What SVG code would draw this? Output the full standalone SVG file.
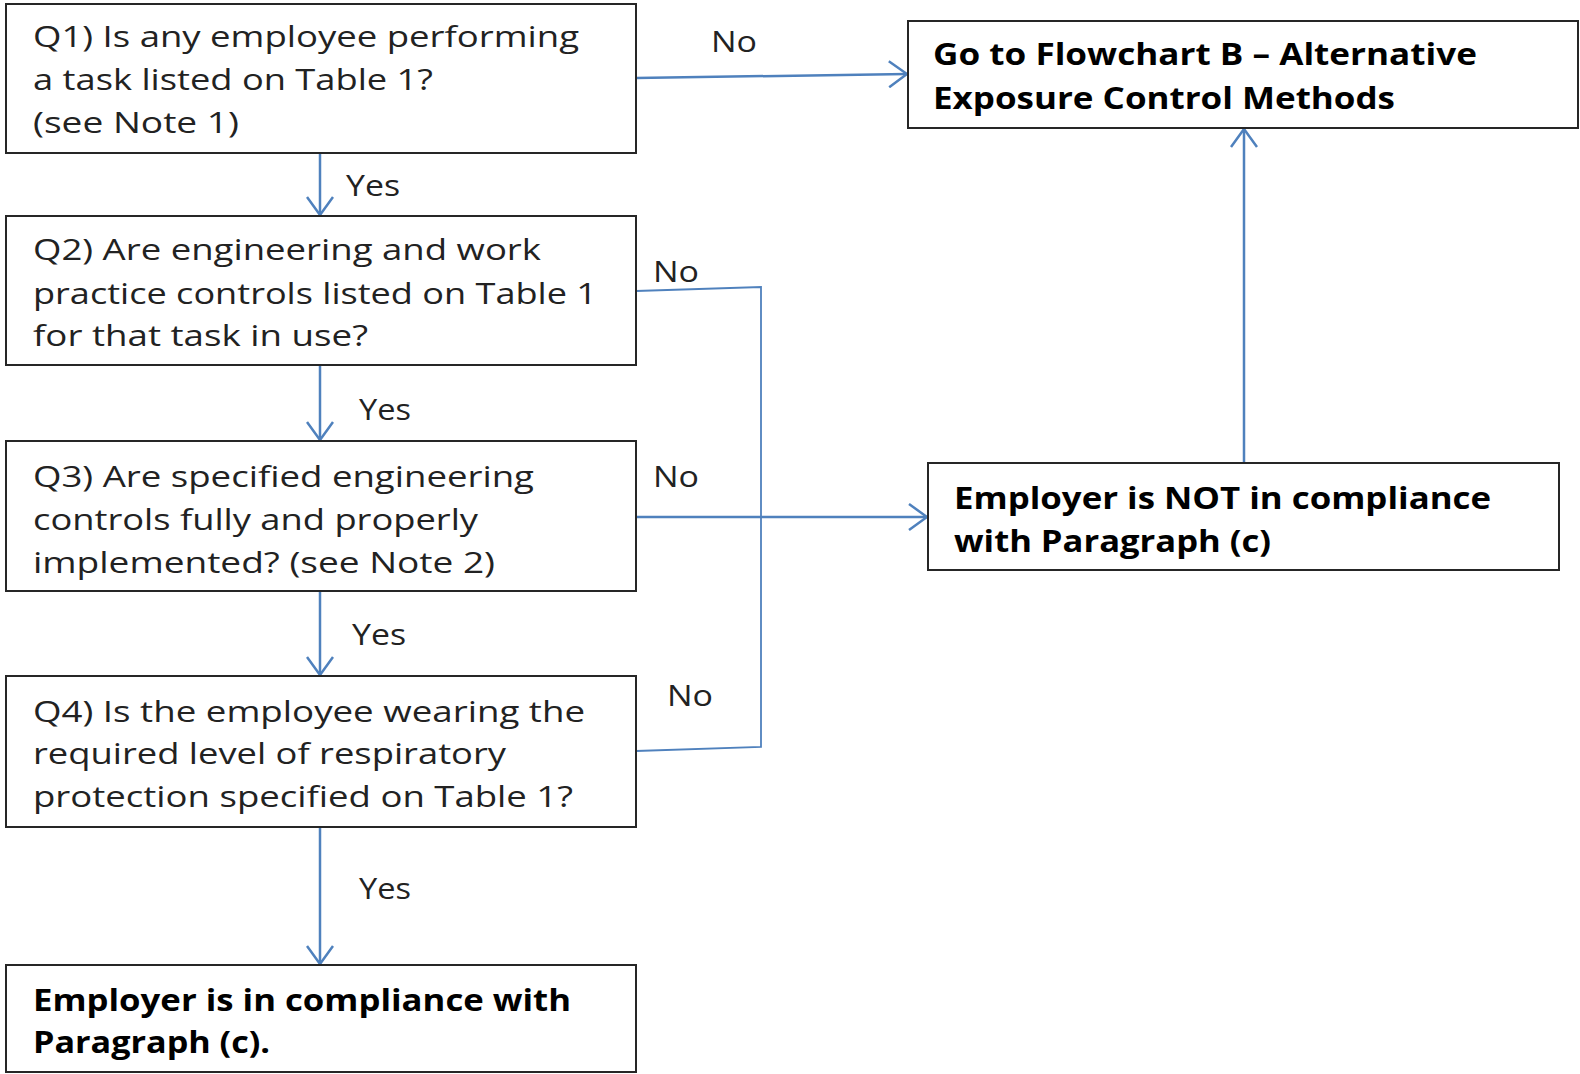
<svg xmlns="http://www.w3.org/2000/svg" width="1580" height="1074" viewBox="0 0 1580 1074">
<style>
.box{fill:#fff;stroke:#262626;stroke-width:2}
.t{font-family:"Open Sans","Liberation Sans",sans-serif;font-size:30px;fill:#222}
.b{font-family:"Open Sans","Liberation Sans",sans-serif;font-size:30px;font-weight:bold;fill:#000}
.c{fill:none;stroke:#4F81BD;stroke-width:2.5}
.l{fill:none;stroke:#4F81BD;stroke-width:1.8}
</style>
<defs>
<marker id="arr" viewBox="0 0 20 28" refX="19" refY="14" markerWidth="20" markerHeight="28" markerUnits="userSpaceOnUse" orient="auto">
<path d="M1,1 L19,14 L1,27" fill="none" stroke="#4F81BD" stroke-width="2.5"/>
</marker>
</defs>
<rect width="1580" height="1074" fill="#fff"/>
<g id="connectors">
<path class="c" d="M636,78 L907,74" marker-end="url(#arr)"/>
<path class="c" d="M320,153 L320,215" marker-end="url(#arr)"/>
<path class="c" d="M320,365 L320,440" marker-end="url(#arr)"/>
<path class="c" d="M320,591 L320,675" marker-end="url(#arr)"/>
<path class="c" d="M320,827 L320,964" marker-end="url(#arr)"/>
<path class="l" d="M636,291 L761,287 L761,747 L636,751"/>
<path class="c" d="M636,517 L927,517" marker-end="url(#arr)"/>
<path class="c" d="M1244,463 L1244,129" marker-end="url(#arr)"/>
<text class="t" x="711" y="52" textLength="46" lengthAdjust="spacingAndGlyphs">No</text>
<text class="t" x="346" y="196" textLength="54" lengthAdjust="spacingAndGlyphs">Yes</text>
<text class="t" x="653" y="282" textLength="46" lengthAdjust="spacingAndGlyphs">No</text>
<text class="t" x="359" y="420" textLength="52" lengthAdjust="spacingAndGlyphs">Yes</text>
<text class="t" x="653" y="487" textLength="46" lengthAdjust="spacingAndGlyphs">No</text>
<text class="t" x="352" y="645" textLength="54" lengthAdjust="spacingAndGlyphs">Yes</text>
<text class="t" x="667" y="706" textLength="46" lengthAdjust="spacingAndGlyphs">No</text>
<text class="t" x="359" y="899" textLength="52" lengthAdjust="spacingAndGlyphs">Yes</text>
</g>
<g id="q1">
<rect class="box" x="6" y="4" width="630" height="149"/>
<text class="t" x="33" y="47" textLength="546" lengthAdjust="spacingAndGlyphs">Q1) Is any employee performing</text>
<text class="t" x="33" y="90" textLength="400" lengthAdjust="spacingAndGlyphs">a task listed on Table 1?</text>
<text class="t" x="33" y="133" textLength="206" lengthAdjust="spacingAndGlyphs">(see Note 1)</text>
</g>
<g id="q2">
<rect class="box" x="6" y="216" width="630" height="149"/>
<text class="t" x="33" y="260" textLength="508" lengthAdjust="spacingAndGlyphs">Q2) Are engineering and work</text>
<text class="t" x="33" y="304" textLength="564" lengthAdjust="spacingAndGlyphs">practice controls listed on Table 1</text>
<text class="t" x="33" y="346" textLength="335" lengthAdjust="spacingAndGlyphs">for that task in use?</text>
</g>
<g id="q3">
<rect class="box" x="6" y="441" width="630" height="150"/>
<text class="t" x="33" y="487" textLength="501" lengthAdjust="spacingAndGlyphs">Q3) Are specified engineering</text>
<text class="t" x="33" y="530" textLength="445" lengthAdjust="spacingAndGlyphs">controls fully and properly</text>
<text class="t" x="33" y="573" textLength="462" lengthAdjust="spacingAndGlyphs">implemented? (see Note 2)</text>
</g>
<g id="q4">
<rect class="box" x="6" y="676" width="630" height="151"/>
<text class="t" x="33" y="722" textLength="552" lengthAdjust="spacingAndGlyphs">Q4) Is the employee wearing the</text>
<text class="t" x="33" y="764" textLength="473" lengthAdjust="spacingAndGlyphs">required level of respiratory</text>
<text class="t" x="33" y="807" textLength="540" lengthAdjust="spacingAndGlyphs">protection specified on Table 1?</text>
</g>
<g id="compliant">
<rect class="box" x="6" y="965" width="630" height="107"/>
<text class="b" x="33" y="1011" textLength="538" lengthAdjust="spacingAndGlyphs">Employer is in compliance with</text>
<text class="b" x="33" y="1053" textLength="237" lengthAdjust="spacingAndGlyphs">Paragraph (c).</text>
</g>
<g id="flowchartB">
<rect class="box" x="908" y="21" width="670" height="107"/>
<text class="b" x="933" y="65" textLength="544" lengthAdjust="spacingAndGlyphs">Go to Flowchart B – Alternative</text>
<text class="b" x="933" y="109" textLength="462" lengthAdjust="spacingAndGlyphs">Exposure Control Methods</text>
</g>
<g id="notCompliant">
<rect class="box" x="928" y="463" width="631" height="107"/>
<text class="b" x="954" y="509" textLength="537" lengthAdjust="spacingAndGlyphs">Employer is NOT in compliance</text>
<text class="b" x="954" y="552" textLength="317" lengthAdjust="spacingAndGlyphs">with Paragraph (c)</text>
</g>
</svg>
